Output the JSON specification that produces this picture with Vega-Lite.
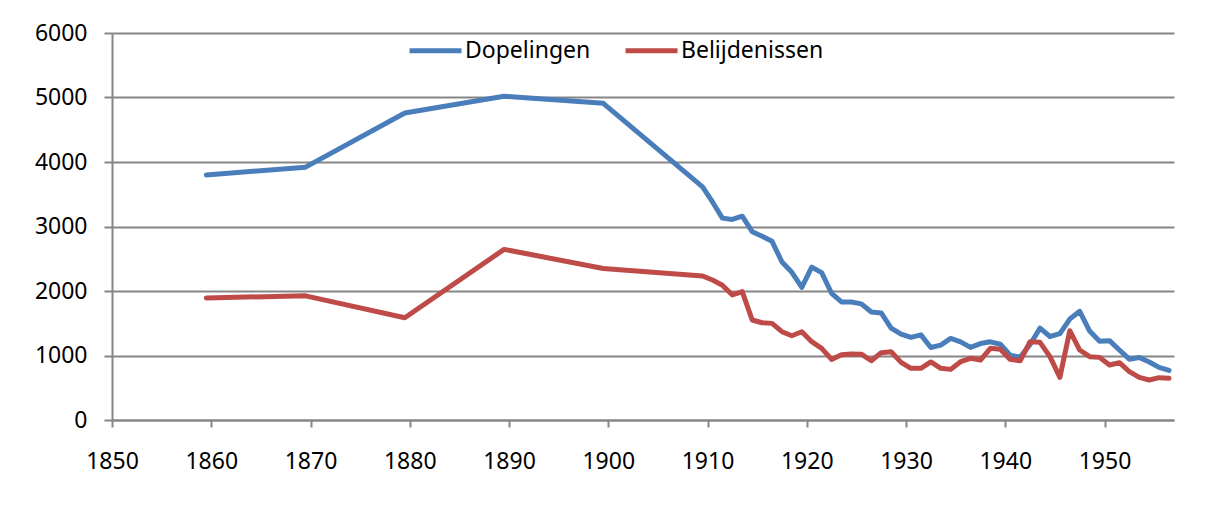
{
  "$schema": "https://vega.github.io/schema/vega-lite/v6.json",
  "width": 1062,
  "height": 387,
  "autosize": {"type": "none"},
  "padding": {"left": 112, "top": 33, "right": 42, "bottom": 93},
  "background": "white",
  "config": {"view": {"stroke": null}, "font": "Noto Sans"},
  "data": {
    "values": [
      {"jaar": 1859.5, "reeks": "Dopelingen", "aantal": 3800},
      {"jaar": 1869.5, "reeks": "Dopelingen", "aantal": 3920},
      {"jaar": 1879.5, "reeks": "Dopelingen", "aantal": 4760},
      {"jaar": 1889.5, "reeks": "Dopelingen", "aantal": 5020},
      {"jaar": 1899.5, "reeks": "Dopelingen", "aantal": 4910},
      {"jaar": 1909.5, "reeks": "Dopelingen", "aantal": 3615},
      {"jaar": 1910.5, "reeks": "Dopelingen", "aantal": 3380},
      {"jaar": 1911.5, "reeks": "Dopelingen", "aantal": 3130},
      {"jaar": 1912.5, "reeks": "Dopelingen", "aantal": 3110},
      {"jaar": 1913.5, "reeks": "Dopelingen", "aantal": 3160},
      {"jaar": 1914.5, "reeks": "Dopelingen", "aantal": 2920},
      {"jaar": 1915.5, "reeks": "Dopelingen", "aantal": 2850},
      {"jaar": 1916.5, "reeks": "Dopelingen", "aantal": 2770},
      {"jaar": 1917.5, "reeks": "Dopelingen", "aantal": 2450},
      {"jaar": 1918.5, "reeks": "Dopelingen", "aantal": 2290},
      {"jaar": 1919.5, "reeks": "Dopelingen", "aantal": 2055},
      {"jaar": 1920.5, "reeks": "Dopelingen", "aantal": 2370},
      {"jaar": 1921.5, "reeks": "Dopelingen", "aantal": 2285},
      {"jaar": 1922.5, "reeks": "Dopelingen", "aantal": 1965},
      {"jaar": 1923.5, "reeks": "Dopelingen", "aantal": 1830},
      {"jaar": 1924.5, "reeks": "Dopelingen", "aantal": 1830},
      {"jaar": 1925.5, "reeks": "Dopelingen", "aantal": 1800},
      {"jaar": 1926.5, "reeks": "Dopelingen", "aantal": 1675},
      {"jaar": 1927.5, "reeks": "Dopelingen", "aantal": 1660},
      {"jaar": 1928.5, "reeks": "Dopelingen", "aantal": 1425},
      {"jaar": 1929.5, "reeks": "Dopelingen", "aantal": 1330},
      {"jaar": 1930.5, "reeks": "Dopelingen", "aantal": 1280},
      {"jaar": 1931.5, "reeks": "Dopelingen", "aantal": 1320},
      {"jaar": 1932.5, "reeks": "Dopelingen", "aantal": 1125},
      {"jaar": 1933.5, "reeks": "Dopelingen", "aantal": 1160},
      {"jaar": 1934.5, "reeks": "Dopelingen", "aantal": 1265},
      {"jaar": 1935.5, "reeks": "Dopelingen", "aantal": 1212},
      {"jaar": 1936.5, "reeks": "Dopelingen", "aantal": 1125},
      {"jaar": 1937.5, "reeks": "Dopelingen", "aantal": 1185},
      {"jaar": 1938.5, "reeks": "Dopelingen", "aantal": 1212},
      {"jaar": 1939.5, "reeks": "Dopelingen", "aantal": 1175},
      {"jaar": 1940.5, "reeks": "Dopelingen", "aantal": 1005},
      {"jaar": 1941.5, "reeks": "Dopelingen", "aantal": 975},
      {"jaar": 1942.5, "reeks": "Dopelingen", "aantal": 1170},
      {"jaar": 1943.5, "reeks": "Dopelingen", "aantal": 1425},
      {"jaar": 1944.5, "reeks": "Dopelingen", "aantal": 1295},
      {"jaar": 1945.5, "reeks": "Dopelingen", "aantal": 1338},
      {"jaar": 1946.5, "reeks": "Dopelingen", "aantal": 1565},
      {"jaar": 1947.5, "reeks": "Dopelingen", "aantal": 1685},
      {"jaar": 1948.5, "reeks": "Dopelingen", "aantal": 1378},
      {"jaar": 1949.5, "reeks": "Dopelingen", "aantal": 1220},
      {"jaar": 1950.5, "reeks": "Dopelingen", "aantal": 1230},
      {"jaar": 1951.5, "reeks": "Dopelingen", "aantal": 1085},
      {"jaar": 1952.5, "reeks": "Dopelingen", "aantal": 943},
      {"jaar": 1953.5, "reeks": "Dopelingen", "aantal": 968},
      {"jaar": 1954.5, "reeks": "Dopelingen", "aantal": 900},
      {"jaar": 1955.5, "reeks": "Dopelingen", "aantal": 815},
      {"jaar": 1956.5, "reeks": "Dopelingen", "aantal": 768},
      {"jaar": 1859.5, "reeks": "Belijdenissen", "aantal": 1893},
      {"jaar": 1869.5, "reeks": "Belijdenissen", "aantal": 1925},
      {"jaar": 1879.5, "reeks": "Belijdenissen", "aantal": 1586},
      {"jaar": 1889.5, "reeks": "Belijdenissen", "aantal": 2645},
      {"jaar": 1899.5, "reeks": "Belijdenissen", "aantal": 2350},
      {"jaar": 1909.5, "reeks": "Belijdenissen", "aantal": 2232},
      {"jaar": 1910.5, "reeks": "Belijdenissen", "aantal": 2170},
      {"jaar": 1911.5, "reeks": "Belijdenissen", "aantal": 2090},
      {"jaar": 1912.5, "reeks": "Belijdenissen", "aantal": 1938},
      {"jaar": 1913.5, "reeks": "Belijdenissen", "aantal": 1990},
      {"jaar": 1914.5, "reeks": "Belijdenissen", "aantal": 1550},
      {"jaar": 1915.5, "reeks": "Belijdenissen", "aantal": 1508},
      {"jaar": 1916.5, "reeks": "Belijdenissen", "aantal": 1498},
      {"jaar": 1917.5, "reeks": "Belijdenissen", "aantal": 1369},
      {"jaar": 1918.5, "reeks": "Belijdenissen", "aantal": 1307},
      {"jaar": 1919.5, "reeks": "Belijdenissen", "aantal": 1369},
      {"jaar": 1920.5, "reeks": "Belijdenissen", "aantal": 1214},
      {"jaar": 1921.5, "reeks": "Belijdenissen", "aantal": 1111},
      {"jaar": 1922.5, "reeks": "Belijdenissen", "aantal": 940},
      {"jaar": 1923.5, "reeks": "Belijdenissen", "aantal": 1012},
      {"jaar": 1924.5, "reeks": "Belijdenissen", "aantal": 1025},
      {"jaar": 1925.5, "reeks": "Belijdenissen", "aantal": 1020},
      {"jaar": 1926.5, "reeks": "Belijdenissen", "aantal": 919},
      {"jaar": 1927.5, "reeks": "Belijdenissen", "aantal": 1044},
      {"jaar": 1928.5, "reeks": "Belijdenissen", "aantal": 1059},
      {"jaar": 1929.5, "reeks": "Belijdenissen", "aantal": 894},
      {"jaar": 1930.5, "reeks": "Belijdenissen", "aantal": 801},
      {"jaar": 1931.5, "reeks": "Belijdenissen", "aantal": 801},
      {"jaar": 1932.5, "reeks": "Belijdenissen", "aantal": 900},
      {"jaar": 1933.5, "reeks": "Belijdenissen", "aantal": 801},
      {"jaar": 1934.5, "reeks": "Belijdenissen", "aantal": 785},
      {"jaar": 1935.5, "reeks": "Belijdenissen", "aantal": 904},
      {"jaar": 1936.5, "reeks": "Belijdenissen", "aantal": 956},
      {"jaar": 1937.5, "reeks": "Belijdenissen", "aantal": 930},
      {"jaar": 1938.5, "reeks": "Belijdenissen", "aantal": 1111},
      {"jaar": 1939.5, "reeks": "Belijdenissen", "aantal": 1096},
      {"jaar": 1940.5, "reeks": "Belijdenissen", "aantal": 940},
      {"jaar": 1941.5, "reeks": "Belijdenissen", "aantal": 919},
      {"jaar": 1942.5, "reeks": "Belijdenissen", "aantal": 1214},
      {"jaar": 1943.5, "reeks": "Belijdenissen", "aantal": 1204},
      {"jaar": 1944.5, "reeks": "Belijdenissen", "aantal": 982},
      {"jaar": 1945.5, "reeks": "Belijdenissen", "aantal": 661},
      {"jaar": 1946.5, "reeks": "Belijdenissen", "aantal": 1385},
      {"jaar": 1947.5, "reeks": "Belijdenissen", "aantal": 1085},
      {"jaar": 1948.5, "reeks": "Belijdenissen", "aantal": 982},
      {"jaar": 1949.5, "reeks": "Belijdenissen", "aantal": 971},
      {"jaar": 1950.5, "reeks": "Belijdenissen", "aantal": 852},
      {"jaar": 1951.5, "reeks": "Belijdenissen", "aantal": 888},
      {"jaar": 1952.5, "reeks": "Belijdenissen", "aantal": 749},
      {"jaar": 1953.5, "reeks": "Belijdenissen", "aantal": 661},
      {"jaar": 1954.5, "reeks": "Belijdenissen", "aantal": 620},
      {"jaar": 1955.5, "reeks": "Belijdenissen", "aantal": 656},
      {"jaar": 1956.5, "reeks": "Belijdenissen", "aantal": 646}
    ]
  },
  "encoding": {
    "x": {
      "field": "jaar",
      "type": "quantitative",
      "scale": {"domain": [1850, 1957], "nice": false, "zero": false},
      "axis": {
        "values": [1850, 1860, 1870, 1880, 1890, 1900, 1910, 1920, 1930, 1940, 1950],
        "format": "d",
        "title": null,
        "grid": false,
        "domainColor": "#868686",
        "domainWidth": 2,
        "tickColor": "#868686",
        "tickWidth": 2,
        "tickSize": 7,
        "labelFontSize": 23,
        "labelColor": "#000000",
        "labelPadding": 23,
        "labelFlush": false
      }
    },
    "y": {
      "field": "aantal",
      "type": "quantitative",
      "scale": {"domain": [0, 6000], "nice": false},
      "axis": {
        "values": [0, 1000, 2000, 3000, 4000, 5000, 6000],
        "format": "d",
        "title": null,
        "grid": true,
        "gridColor": "#868686",
        "gridWidth": 2,
        "domainColor": "#868686",
        "domainWidth": 2,
        "tickColor": "#868686",
        "tickWidth": 2,
        "tickSize": 8,
        "labelFontSize": 23,
        "labelColor": "#000000",
        "labelPadding": 17
      }
    },
    "color": {
      "field": "reeks",
      "type": "nominal",
      "scale": {"domain": ["Dopelingen", "Belijdenissen"], "range": ["#4A7EBB", "#BE4B48"]},
      "legend": {
        "orient": "none",
        "legendX": 295,
        "legendY": -11,
        "direction": "horizontal",
        "title": null,
        "symbolType": "stroke",
        "symbolSize": 2704,
        "symbolStrokeWidth": 5,
        "labelFontSize": 23,
        "labelColor": "#000000",
        "labelOffset": 1,
        "columnPadding": 24
      }
    }
  },
  "layer": [
    {
      "transform": [{"filter": "datum.reeks === 'Dopelingen'"}],
      "mark": {"type": "line", "strokeWidth": 5, "strokeCap": "round", "strokeJoin": "round"}
    },
    {
      "transform": [{"filter": "datum.reeks === 'Belijdenissen'"}],
      "mark": {"type": "line", "strokeWidth": 5, "strokeCap": "round", "strokeJoin": "round"}
    }
  ]
}
